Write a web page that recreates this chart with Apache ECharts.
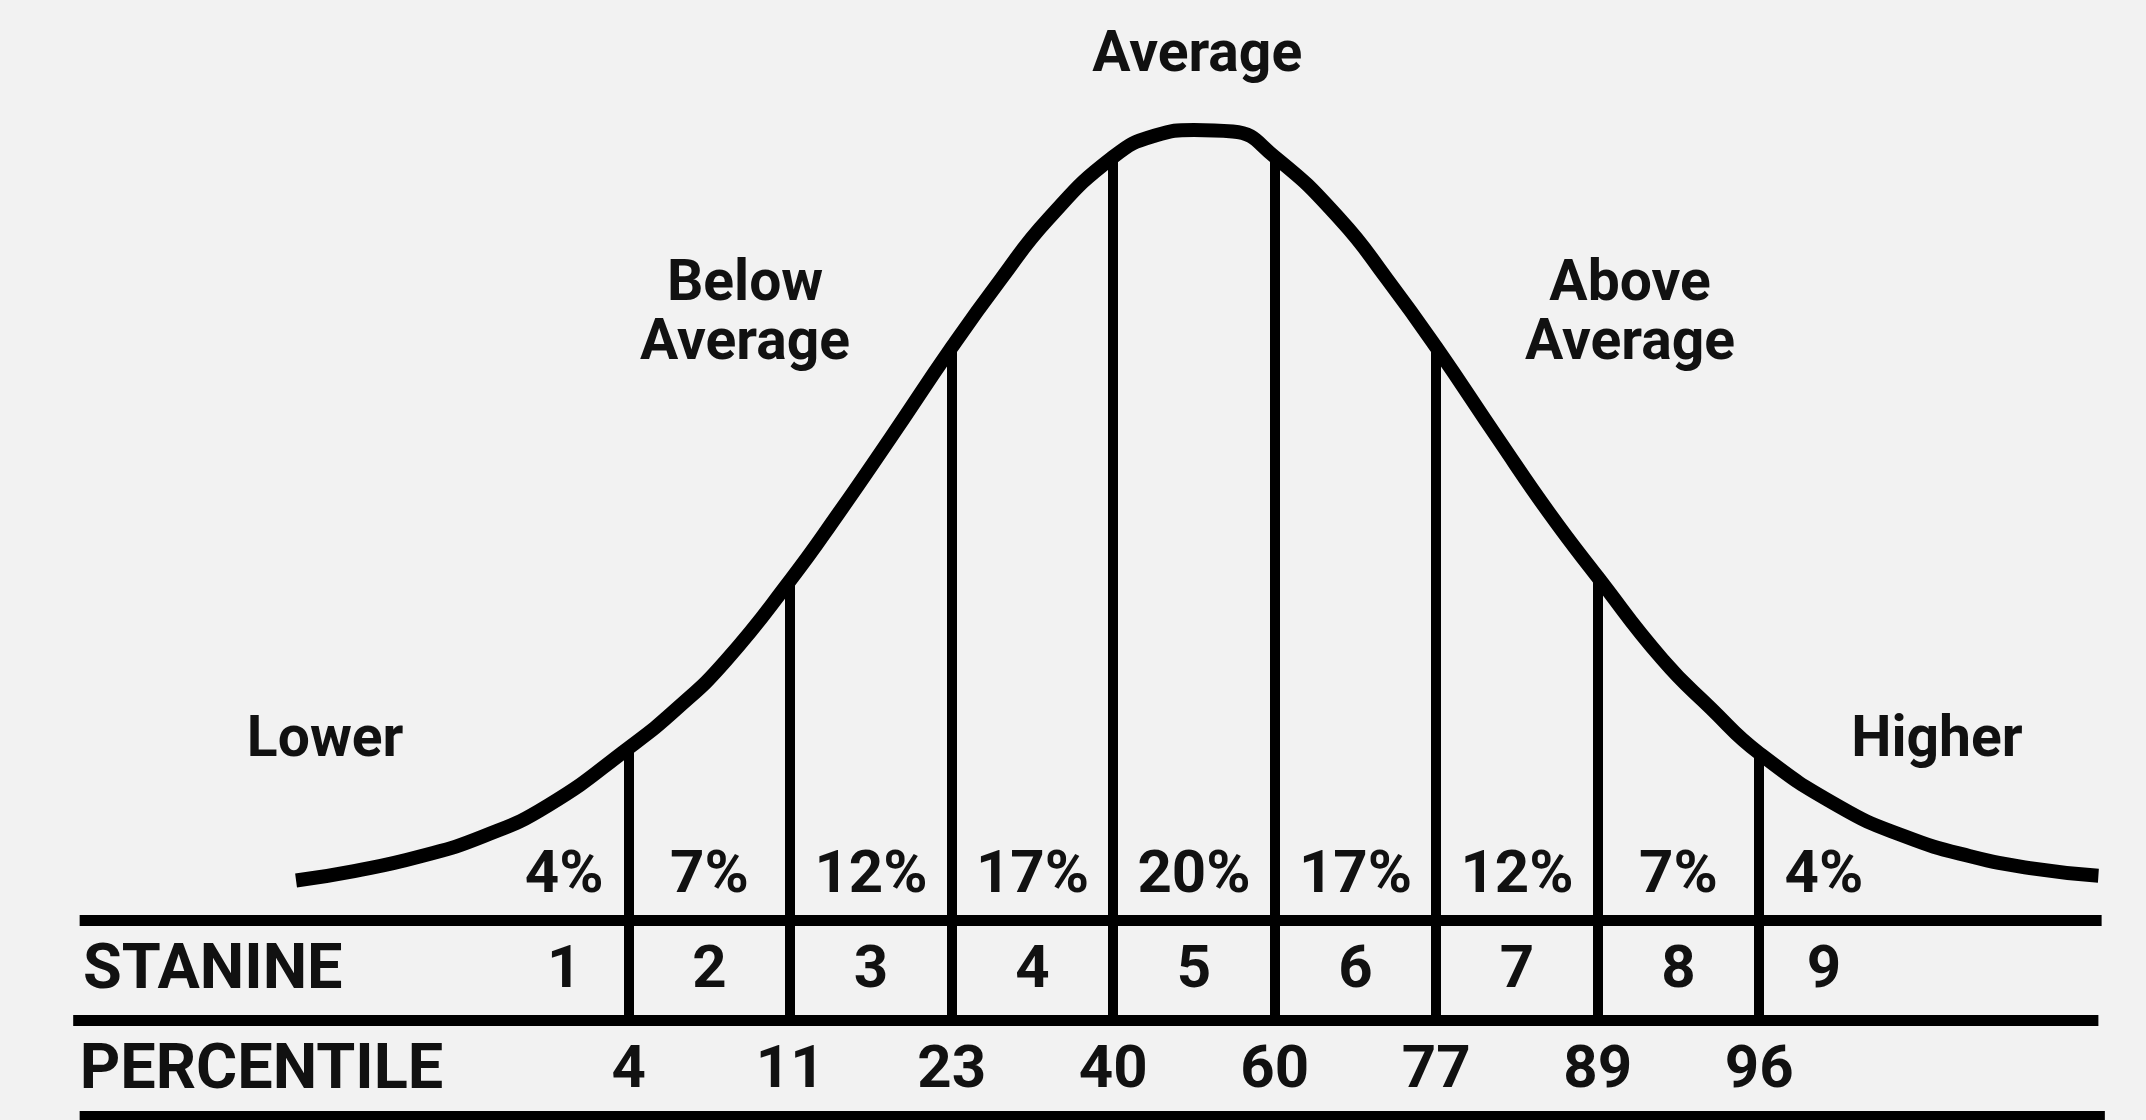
<!DOCTYPE html>
<html>
<head>
<meta charset="utf-8">
<title>Stanine</title>
<script src="https://cdn.jsdelivr.net/npm/echarts@6/dist/echarts.min.js"></script>
<style>
  html, body { margin: 0; padding: 0; background: #f2f2f2; }
  #chart { width: 2146px; height: 1120px; }
</style>
</head>
<body>
<div id="chart"></div>
<script>
// x: z-score, y: height relative to the peak (peak = 100, top table rule = 0)
const curveZ = [-2.78, -2.60, -2.40, -2.20, -2.00, -1.75, -1.60, -1.45, -1.25, -1.10, -0.94, -0.75, -0.60, -0.45, -0.25, -0.12, 0.00, 0.12, 0.25, 0.45, 0.60, 0.75, 0.94, 1.10, 1.25, 1.45, 1.60, 1.75, 2.00, 2.20, 2.40, 2.60, 2.80];
const curveH = [5.0, 6.2, 8.0, 10.6, 14.5, 21.8, 26.8, 32.8, 43.0, 51.5, 61.0, 72.5, 81.0, 88.8, 96.6, 99.3, 100, 99.8, 96.6, 88.8, 81.0, 72.5, 61.0, 51.5, 43.4, 33.0, 26.8, 21.1, 14.3, 10.6, 8.1, 6.5, 5.6];

// stanine boundaries and the percentile at each one
const boundaries = [-1.75, -1.25, -0.75, -0.25, 0.25, 0.75, 1.25, 1.75];
const boundaryTops = [21.8, 43.0, 72.5, 96.6, 96.6, 72.5, 43.4, 21.1];
const percentiles = ["4", "11", "23", "40", "60", "77", "89", "96"];

// the nine stanine bands
const stanines = ["1", "2", "3", "4", "5", "6", "7", "8", "9"];
const bandCenters = [-1.95, -1.5, -1.0, -0.5, 0, 0.5, 1.0, 1.5, 1.95];
const bandShares = ["4%", "7%", "12%", "17%", "20%", "17%", "12%", "7%", "4%"];

// table rows: percent row, stanine row, percentile row
const rowLevels = [6.1, -6.0, -18.6];
const rowNames = ["STANINE", "PERCENTILE"];
const rowNameZ = [-3.44, -3.45];

// horizontal rules of the table
const ruleLevels = [0, -12.66, -24.8];
const ruleStarts = [-3.45, -3.47, -3.45];
const ruleEnds = [2.81, 2.80, 2.82];

// descriptive labels over the curve
const groupNames = ["Lower", "Below\nAverage", "Average", "Above\nAverage", "Higher"];
const groupZ = [-2.69, -1.39, 0.01, 1.35, 2.30];
const groupH = [23.2, 77.2, 109.9, 77.2, 23.2];

const fontFamily = "Roboto, 'Liberation Sans', Arial, sans-serif";
const ink = "#111";

const chart = echarts.init(document.getElementById("chart"));

const textSeries = (names, xs, ys, size, align) => ({
  type: "scatter",
  silent: true,
  symbolSize: 0,
  z: 5,
  itemStyle: { opacity: 1 },
  data: names.map((n, i) => ({ name: n, value: [xs[i], ys[i]] })),
  label: {
    show: true,
    position: "inside",
    offset: [0, 5],
    align: align || "center",
    verticalAlign: "middle",
    formatter: (p) => p.name,
    color: ink,
    opacity: 1,
    fontFamily: fontFamily,
    fontWeight: "bold",
    fontSize: size,
    lineHeight: 59,
  },
});

const option = {
  backgroundColor: "#f2f2f2",
  animation: false,
  grid: { left: 0, right: 0, top: 0, bottom: 0 },
  xAxis: { type: "value", min: -3.6966, max: 2.9474, show: false },
  yAxis: { type: "value", min: -25.316, max: 116.456, show: false },
  series: [
    // bell curve
    {
      type: "line",
      silent: true,
      smooth: 0.5,
      symbol: "none",
      z: 4,
      data: curveZ.map((z, i) => [z, curveH[i]]),
      lineStyle: { color: "#000", width: 14, cap: "butt" },
    },
    // dividers from the curve down to the stanine row
    {
      type: "lines",
      coordinateSystem: "cartesian2d",
      silent: true,
      z: 3,
      data: boundaries.map((b, i) => ({ coords: [[b, boundaryTops[i]], [b, ruleLevels[1]]] })),
      lineStyle: { color: "#000", width: 10, opacity: 1 },
    },
    // table rules
    {
      type: "lines",
      coordinateSystem: "cartesian2d",
      silent: true,
      z: 3,
      data: ruleLevels.map((l, i) => ({ coords: [[ruleStarts[i], l], [ruleEnds[i], l]] })),
      lineStyle: { color: "#000", width: 11, opacity: 1 },
    },
    textSeries(bandShares, bandCenters, bandCenters.map(() => rowLevels[0]), 60),
    textSeries(stanines, bandCenters, bandCenters.map(() => rowLevels[1]), 60),
    textSeries(percentiles, boundaries, boundaries.map(() => rowLevels[2]), 60),
    textSeries(rowNames, rowNameZ, [rowLevels[1], rowLevels[2]], 63, "left"),
    textSeries(groupNames, groupZ, groupH, 57),
  ],
};

chart.setOption(option);
</script>
</body>
</html>
